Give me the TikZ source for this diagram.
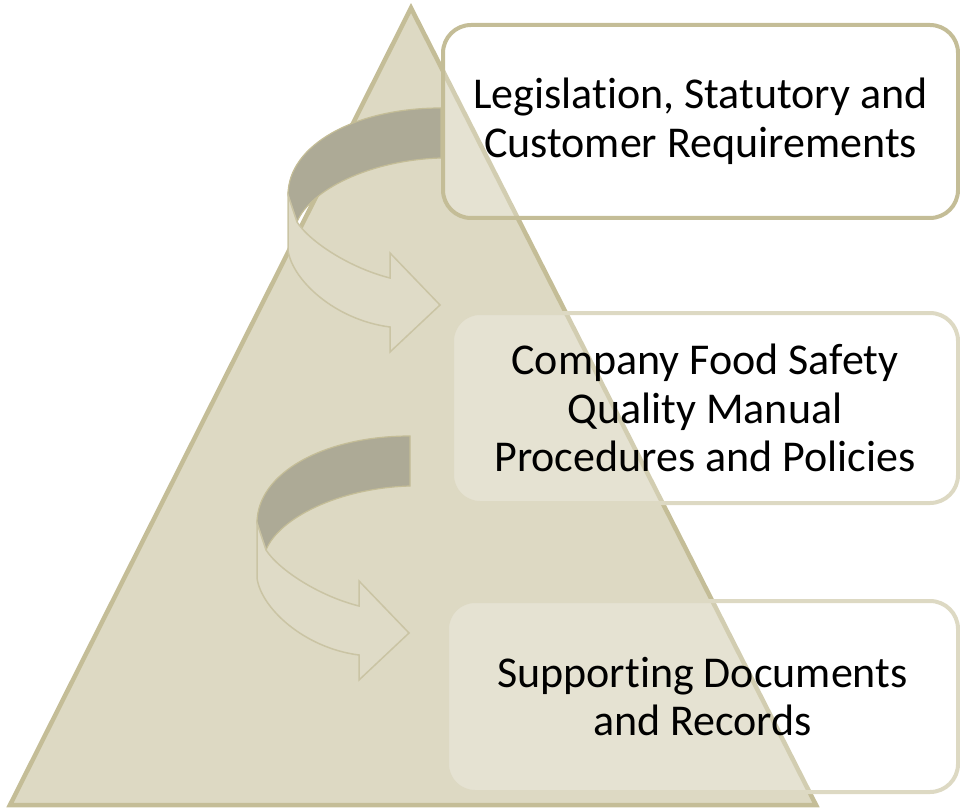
\documentclass[tikz,border=0pt]{standalone}
\usepackage{fontspec}
\setmainfont{Carlito}[RawFeature={-liga}]
\definecolor{tanfill}{HTML}{DDD9C3}
\definecolor{tanline}{HTML}{C4BD97}
\definecolor{bandfill}{HTML}{ADAA96}
\definecolor{facefill}{HTML}{DFDBC7}
\definecolor{faceline}{HTML}{CAC4A4}
\newcommand{\ribbonarrow}{%
  \path[band] (441,108) .. controls (355,108) and (288,145) .. (288,195)
     -- (297,222) .. controls (310,190) and (370,160) .. (441,158) -- cycle;
  \path[face] (288,195) -- (288,250) .. controls (292,280) and (335,320) .. (390,327)
     -- (390,352) -- (440,305) -- (390,253) -- (390,278)
     .. controls (350,268) and (310,242) .. (297,222) -- cycle;
}
\begin{document}
\begin{tikzpicture}[x=1pt,y=-1pt,
  textbox/.style={rectangle, rounded corners=28pt, fill=white, fill opacity=0.25,
    text opacity=1, line width=4pt, align=center,
    font=\fontsize{44}{48.5}\selectfont, inner sep=0pt},
  band/.style={fill=bandfill, draw=tanline, line width=1.2pt},
  face/.style={fill=facefill, draw=faceline, line width=1.5pt, line join=miter}]
\useasboundingbox (0,0) rectangle (960,810);
\coordinate (apex) at (411,8);
\coordinate (bl) at (10,805);
\coordinate (br) at (816,805);
\draw[fill=tanfill, draw=tanline, line width=4.5pt] (apex) -- (br) -- (bl) -- cycle;
\ribbonarrow
\begin{scope}[shift={(-31,328)}]
\ribbonarrow
\end{scope}
\node[textbox, draw=tanline, minimum width=515pt, minimum height=193pt] (req) at (700.5,121.5)
  {Legislation, Statutory and\\Customer Requirements};
\node[textbox, draw=tanfill, minimum width=506pt, minimum height=190pt] (manual) at (705,408)
  {Company Food Safety\\Quality Manual\\Procedures and Policies};
\node[textbox, draw=tanfill, minimum width=511pt, minimum height=191pt] (docs) at (702.5,696.5)
  {Supporting Documents\\and Records};
\end{tikzpicture}
\end{document}
